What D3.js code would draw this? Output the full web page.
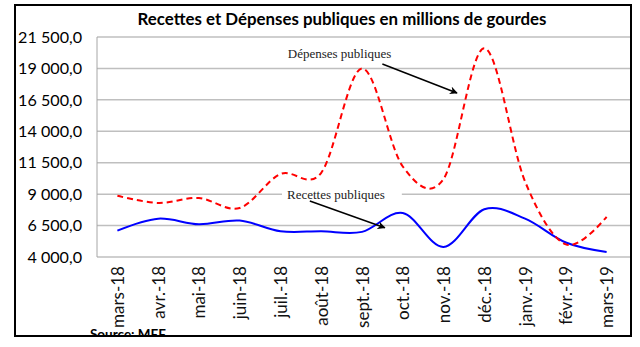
<!DOCTYPE html>
<html><head><meta charset="utf-8">
<script src="https://cdn.jsdelivr.net/npm/d3@7/dist/d3.min.js"></script>
<style>html,body{margin:0;padding:0;background:#fff}svg{display:block}</style>
</head><body>
<svg id="c" width="640" height="347"></svg>
<script>
const categories = ["mars-18","avr.-18","mai-18","juin-18","juil.-18","août-18","sept.-18","oct.-18","nov.-18","déc.-18","janv.-19","févr.-19","mars-19"];
const depenses = [8870, 8300, 8690, 7900, 10600, 10700, 19000, 11200, 10200, 20600, 10000, 5000, 7200];
const recettes = [6100, 7050, 6600, 6900, 6050, 6050, 6000, 7500, 4800, 7800, 7050, 5150, 4400];
const yTicks = [4000, 6500, 9000, 11500, 14000, 16500, 19000, 21500];
const title = "Recettes et Dépenses publiques en millions de gourdes";
const source = "Source: MEF";
// annotations in data space: [category index, value]
const annDep = {label: "Dépenses publiques", text: [4.18, 19850], from: [6.5, 19350], to: [8.33, 17050]};
const annRec = {label: "Recettes publiques", text: [4.16, 8620], from: [4.72, 8450], to: [6.56, 6330]};

const svg = d3.select("#c");
const L = 97, R = 627, T = 37, B = 257;
const x = d3.scaleBand().domain(categories).range([L, R]).padding(0);
const cx = c => x(c) + x.bandwidth() / 2;
const xi = d3.scaleLinear().domain([0, categories.length - 1]).range([cx(categories[0]), cx(categories[categories.length - 1])]);
const y = d3.scaleLinear().domain([4000, 21500]).range([B, T]);
const sans = "Lato, 'Open Sans', sans-serif";

function fit(sel, target) {
  const w = sel.node().getComputedTextLength();
  const fs = parseFloat(sel.attr("font-size"));
  const nfs = fs * target / w;
  sel.attr("font-size", nfs);
  return nfs;
}

// gridlines
svg.append("g").selectAll("line").data(yTicks).join("line")
  .attr("x1", L).attr("x2", 631).attr("y1", d => y(d)).attr("y2", d => y(d))
  .attr("stroke", "#bfbfbf").attr("stroke-width", 1.5);
// left axis line
svg.append("line").attr("x1", L).attr("x2", L).attr("y1", T).attr("y2", B)
  .attr("stroke", "#a6a6a6").attr("stroke-width", 1);

// y axis labels
const yAxis = d3.axisLeft(y).tickValues(yTicks).tickSize(0).tickPadding(15)
  .tickFormat(d => d3.format(",.1f")(d).replace(",", " ").replace(".", ","));
const ga = svg.append("g").attr("transform", `translate(${L},0)`).call(yAxis);
ga.select(".domain").remove();
ga.selectAll("text").attr("font-family", sans).attr("font-size", 14).attr("fill", "#000");
const topLbl = ga.selectAll("text").filter(d => d === 21500);
const yfs = fit(topLbl, 64);
ga.selectAll("text").attr("font-size", yfs);

// x axis labels
const xAxis = d3.axisBottom(x).tickSize(0).tickPadding(0);
const gx = svg.append("g").attr("transform", `translate(0,${B})`).call(xAxis);
gx.select(".domain").remove();
gx.selectAll("text").attr("font-family", sans).attr("font-size", 13).attr("fill", "#111")
  .attr("text-anchor", "end").attr("dy", null)
  .attr("transform", "translate(0,9) rotate(-90)")
  .attr("x", 0).attr("y", 0).attr("dominant-baseline", "central");
const sl = gx.selectAll("text").filter(d => d === "sept.-18");
const xfs = fit(sl, 62);
gx.selectAll("text").attr("font-size", xfs);

// lines
const line = d3.line().x((d, i) => cx(categories[i])).y(d => y(d)).curve(d3.curveCardinal.tension(0));
svg.append("path").datum(recettes).attr("d", line).attr("fill", "none")
  .attr("stroke", "#0000ff").attr("stroke-width", 2);
svg.append("path").datum(depenses).attr("d", line).attr("fill", "none")
  .attr("stroke", "#ff0000").attr("stroke-width", 2).attr("stroke-dasharray", "6,4");

// arrow marker
svg.append("defs").append("marker").attr("id", "ah").attr("viewBox", "0 0 10 10")
  .attr("refX", 9).attr("refY", 5).attr("markerWidth", 8).attr("markerHeight", 8)
  .attr("markerUnits", "userSpaceOnUse").attr("orient", "auto")
  .append("path").attr("d", "M0,0 L10,5 L0,10 L3,5 Z").attr("fill", "#000");

// annotations
function annotate(a, bg) {
  const tx = xi(a.text[0]), ty = y(a.text[1]);
  const g = svg.append("g");
  const t = g.append("text").attr("x", tx).attr("y", ty).text(a.label)
    .attr("font-family", "'Liberation Serif', 'Times New Roman', serif").attr("font-size", 13).attr("fill", "#222");
  if (bg) {
    const bb = t.node().getBBox();
    g.insert("rect", "text").attr("x", bb.x - 5).attr("y", bb.y).attr("width", bb.width + 22).attr("height", bb.height)
      .attr("fill", "#fff");
  }
  svg.append("line").attr("x1", xi(a.from[0])).attr("y1", y(a.from[1]))
    .attr("x2", xi(a.to[0])).attr("y2", y(a.to[1]))
    .attr("stroke", "#000").attr("stroke-width", 1.5).attr("marker-end", "url(#ah)");
}
annotate(annDep, false);
annotate(annRec, true);

// title
const tt = svg.append("text").attr("x", 342).attr("y", 25).attr("text-anchor", "middle")
  .attr("font-family", sans).attr("font-weight", "bold").attr("font-size", 15).attr("fill", "#000").text(title);
fit(tt, 409);

// source
const st = svg.append("text").attr("x", 90).attr("y", 339)
  .attr("font-family", sans).attr("font-weight", "bold").attr("font-size", 14).attr("fill", "#000").text(source);
fit(st, 76);
svg.append("rect").attr("x", 0).attr("y", 336).attr("width", 640).attr("height", 11).attr("fill", "#fff");

// outer border
svg.append("rect").attr("x", 15).attr("y", 5).attr("width", 616).attr("height", 331)
  .attr("fill", "none").attr("stroke", "#000").attr("stroke-width", 2);
</script>
</body></html>
